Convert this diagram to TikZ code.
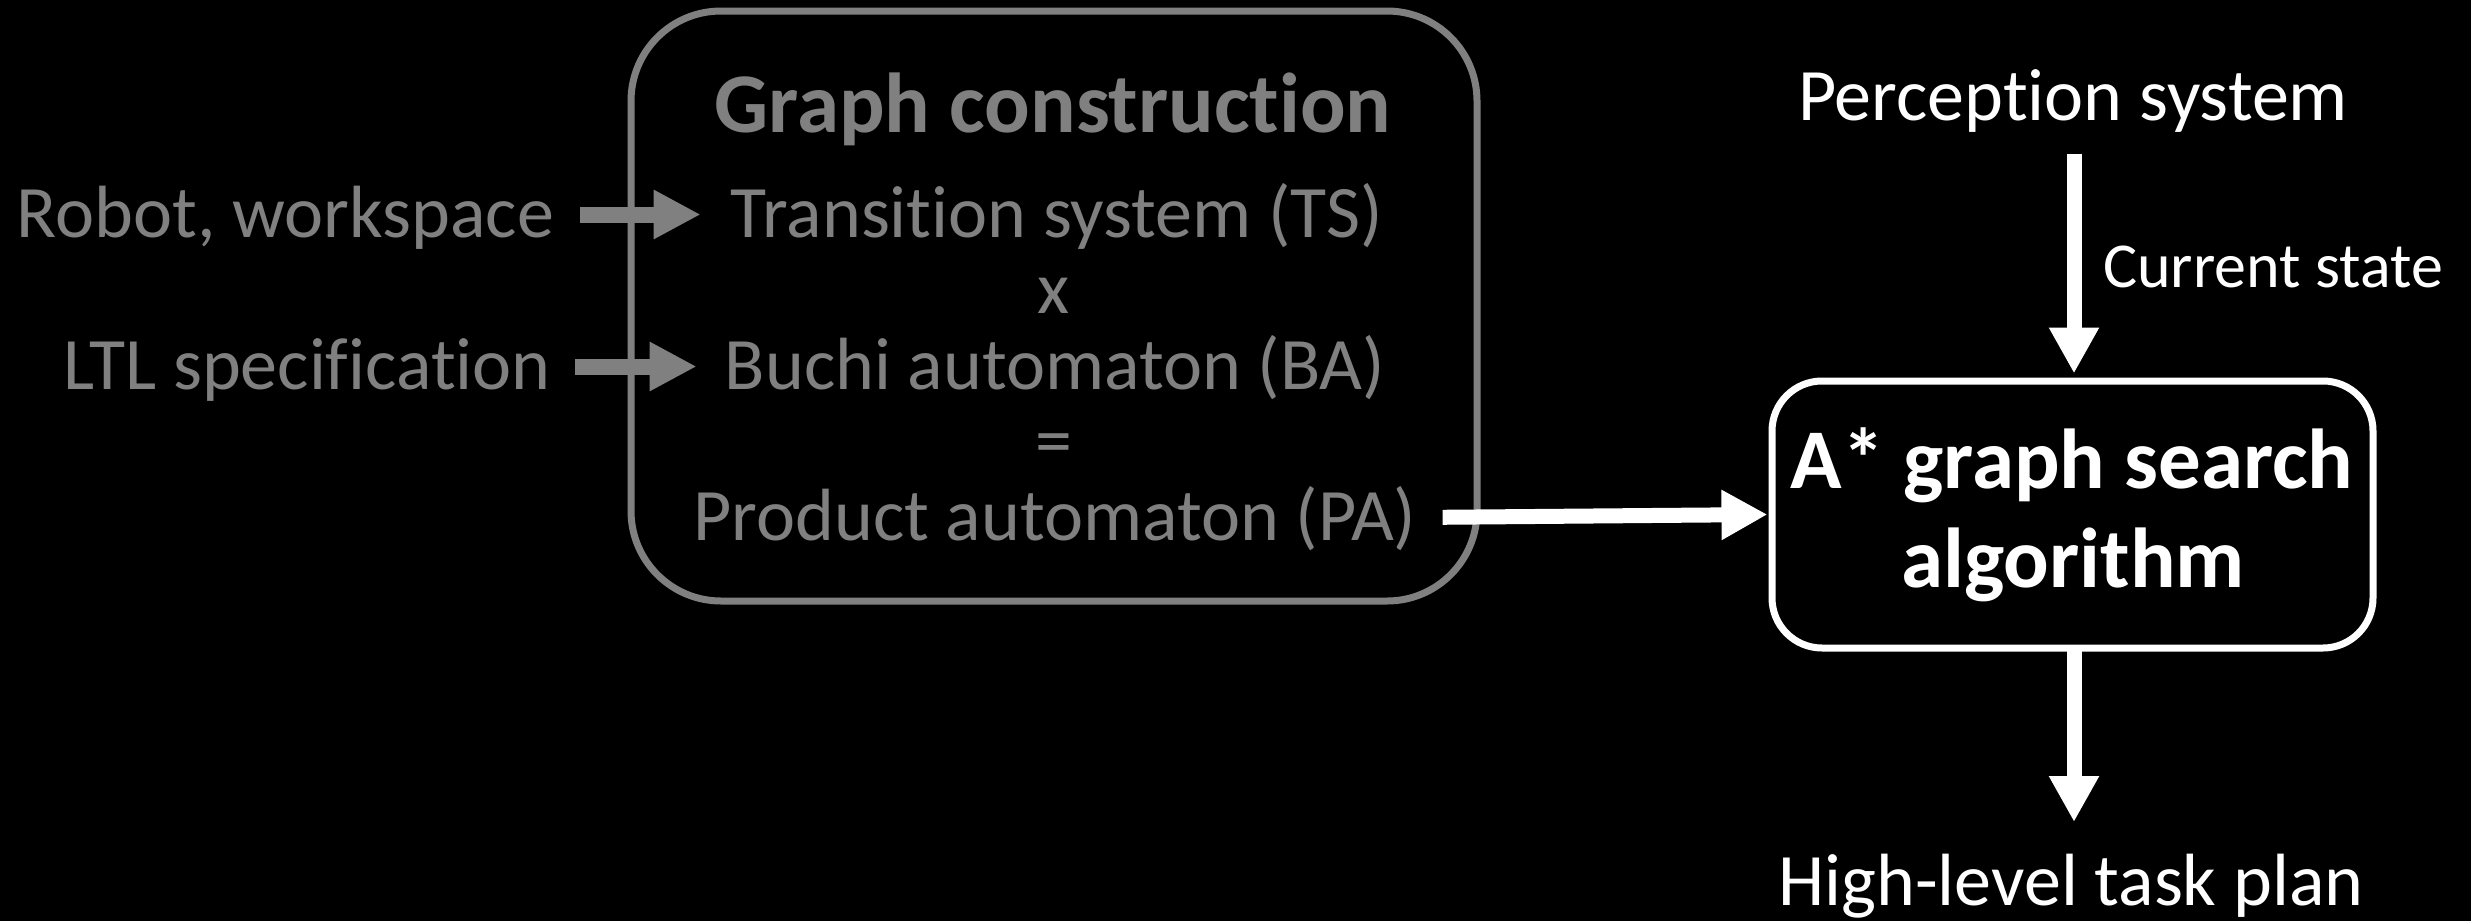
\documentclass[tikz,border=0pt]{standalone}
\usepackage{fontspec}
\setmainfont{Carlito}[Ligatures={NoCommon}]
\usetikzlibrary{arrows.meta}
\definecolor{gr}{RGB}{128,128,128}
\begin{document}
\begin{tikzpicture}[x=1pt,y=-1pt,
  reg/.style={font=\fontsize{74}{76}\selectfont, inner sep=0pt, text height=45pt, text depth=0pt},
  bld/.style={font=\fontsize{85}{96}\bfseries\selectfont, inner sep=0pt},
  small/.style={font=\fontsize{64}{66}\selectfont, inner sep=0pt},
  grarrow/.style={draw=gr, line width=16pt, -{Triangle[width=46pt,length=47pt]}, gr},
  wharrow/.style={draw=white, line width=15pt, -{Triangle[width=47pt,length=46pt]}, white},
]
\fill[black] (0,0) rectangle (2471,921);
\useasboundingbox (0,0) rectangle (2471,921);

% graph construction box
\node[draw=gr, line width=7pt, rounded corners=90pt, minimum width=846pt, minimum height=590pt] (gc) at (1054,306) {};
\node[bld, text=gr, anchor=base] (title) at (1053,132) {Graph construction};
\node[reg, text=gr, anchor=base] (ts) at (1057,237) {Transition system (TS)};
\node[reg, text=gr, anchor=base] (times) at (1054,313) {x};
\node[reg, text=gr, anchor=base] (ba) at (1055,389) {Buchi automaton (BA)};
\node[reg, text=gr, anchor=base] (eq) at (1054,465) {=};
\node[reg, text=gr, anchor=base] (pa) at (1055,540) {Product automaton (PA)};

\node[reg, text=gr, anchor=base east] (robot) at (554,237) {Robot, workspace};
\node[reg, text=gr, anchor=base east] (ltl) at (551,389) {LTL specification};

\draw[grarrow, shorten <=26pt, shorten >=30pt] (robot.east) -- (ts.west);
\draw[grarrow, shorten <=24pt, shorten >=28pt] (ltl.east) -- (ba.west);

% A* box
\node[draw=white, line width=7pt, rounded corners=50pt, minimum width=601pt, minimum height=267pt] (astar) at (2072.5,514.5) {};
\node[bld, text=white, anchor=base] (l1) at (2072,488) {A* graph search};
\node[bld, text=white, anchor=base] (l2) at (2073,587) {algorithm};

\node[reg, text=white, anchor=base] (perc) at (2073,120) {Perception system};
\node[reg, text=white, anchor=base] (plan) at (2071,905) {High-level task plan};
\node[small, text=white, anchor=base west] (cur) at (2103,287) {Current state};

\coordinate (pbot) at (2074,154);
\coordinate (ptip) at (2074,822);
\draw[wharrow, shorten <=26pt, shorten >=1pt] (pa.east) -- (astar.west);
\draw[wharrow, shorten >=4pt] (pbot) -- (pbot |- astar.north);
\draw[wharrow, shorten <=-3pt] (pbot |- astar.south) -- (ptip);
\end{tikzpicture}
\end{document}
